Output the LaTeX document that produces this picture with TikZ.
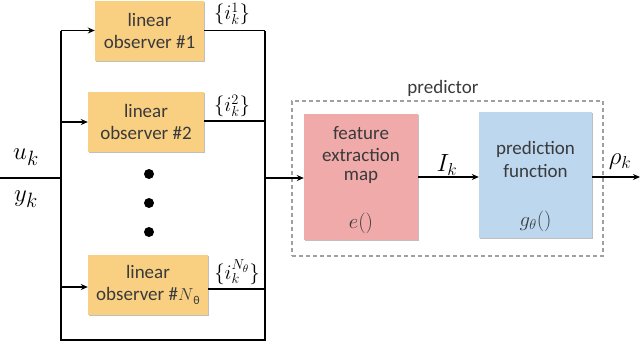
\documentclass[tikz,border=0pt]{standalone}
\usepackage{fontspec}
\setmainfont{Carlito}
\usetikzlibrary{arrows.meta,shadows}
\definecolor{obsfill}{HTML}{F9CF82}
\definecolor{featfill}{HTML}{F0AAAA}
\definecolor{predfill}{HTML}{BDD7EE}
\definecolor{txtgray}{HTML}{3A3A3A}
\definecolor{dashgray}{HTML}{A0A0A0}
\tikzset{
  box/.style={rectangle, draw=none, inner sep=0pt, text=txtgray, align=center,
    font=\fontsize{19}{22}\selectfont,
    drop shadow={shadow xshift=1.2pt, shadow yshift=-1.2pt, opacity=0.25, fill=black}},
  obsbox/.style={box, fill=obsfill, minimum height=60pt},
  wire/.style={line width=1.6pt, black},
  arr/.style={wire, -{Stealth[length=7pt,width=6pt]}},
  mathbig/.style={font=\fontsize{28}{30}\selectfont, inner sep=0pt},
  mathmid/.style={font=\fontsize{24}{26}\selectfont, inner sep=0pt},
  mathsmall/.style={font=\fontsize{21}{23}\selectfont, inner sep=0pt},
  mathbox/.style={font=\fontsize{22}{24}\selectfont, inner sep=0pt, text=txtgray},
  boxtxt/.style={text=txtgray, inner sep=0pt, font=\fontsize{19}{22}\selectfont},
  dotmark/.style={circle, fill=black, inner sep=0pt, minimum size=10pt}
}
\begin{document}
\begin{tikzpicture}[x=1pt,y=-1pt]
\useasboundingbox (0,0) rectangle (640,362);
% observer boxes
\node[obsbox, minimum width=109pt] (obs1) at (149.5,30.5) {linear\\observer \#1};
\node[obsbox, minimum width=116pt] (obs2) at (146,121.5) {linear\\observer \#2};
\node[obsbox, minimum width=120pt] (obsN) at (148,285) {linear\\observer \#$N$\raisebox{-4pt}{\fontsize{12}{12}\selectfont θ}};
% dots
\node[dotmark] (d1) at (149,174) {};
\node[dotmark] (d2) at (149,203) {};
\node[dotmark] (d3) at (149,232) {};
% predictor
\node[rectangle, draw=dashgray, dash pattern=on 4pt off 3pt, line width=1.1pt,
  minimum width=311pt, minimum height=155pt] (predictor) at (447.5,178.5) {};
\node[text=txtgray, inner sep=0pt, font=\fontsize{19}{22}\selectfont] (predlbl) at (443,88) {predictor};
\node[box, fill=featfill, minimum width=114pt, minimum height=126pt] (feat) at (361,177) {};
\node[box, fill=predfill, minimum width=113pt, minimum height=126pt] (pred) at (535.5,175) {};
\node[boxtxt] (ft1) at (361,133) {feature};
\node[boxtxt] (ft2) at (361,155) {extraction};
\node[boxtxt] (ft3) at (361,177) {map};
\node[mathbox] (fe) at (361,223) {$e()$};
\node[boxtxt] (pt1) at (535.5,149) {prediction};
\node[boxtxt] (pt2) at (535.5,171) {function};
\node[mathbox] (pg) at (535.5,221) {$g_\theta()$};
% coordinates
\coordinate (in0) at (0,178);
\coordinate (jl) at (61,178);
\coordinate (bl1) at (61,30.5);
\coordinate (bl2) at (61,122);
\coordinate (blN) at (61,287);
\coordinate (bbl) at (61,340);
\coordinate (bbr) at (265,340);
\coordinate (br1) at (265,30.5);
\coordinate (br2) at (265,121);
\coordinate (brN) at (265,289);
\coordinate (jr) at (265,178);
\coordinate (out) at (640,177);
% wires
\draw[wire] (in0) -- (jl);
\draw[wire] (bl1) -- (bbl) -- (bbr) -- (br1);
\draw[arr] (bl1) -- (bl1 -| obs1.west);
\draw[arr] (bl2) -- (bl2 -| obs2.west);
\draw[arr] (blN) -- (blN -| obsN.west);
\draw[wire] (br1 -| obs1.east) -- (br1);
\draw[wire] (br2 -| obs2.east) -- (br2);
\draw[wire] (brN -| obsN.east) -- (brN);
\draw[arr] (jr) -- (jr -| feat.west);
\draw[arr] (feat.east |- 0,177) -- (pred.west |- 0,177);
\draw[arr] (pred.east |- out) -- (out);
% labels
\node[mathbig] (uk) at (26,157) {$u_k$};
\node[mathbig] (yk) at (26,199) {$y_k$};
\node[mathsmall] (i1) at (232,14) {$\{i_k^1\}$};
\node[mathsmall] (i2) at (232,106) {$\{i_k^2\}$};
\node[mathsmall] (iN) at (237,272) {$\{i_k^{N_\theta}\}$};
\node[mathmid] (Ik) at (447,165) {$I_k$};
\node[mathmid] (rk) at (620,162) {$\rho_k$};
\end{tikzpicture}
\end{document}
